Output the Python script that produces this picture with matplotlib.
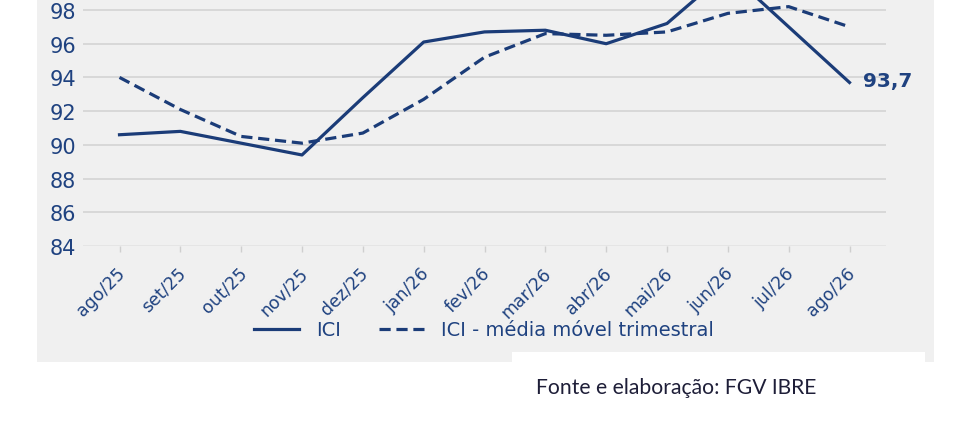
import matplotlib
matplotlib.use("Agg")
import matplotlib.pyplot as plt
from matplotlib.patches import Rectangle
from matplotlib.transforms import ScaledTranslation

plt.rcParams["font.family"] = ["DejaVu Sans"]

months = ["ago/25", "set/25", "out/25", "nov/25", "dez/25", "jan/26", "fev/26",
          "mar/26", "abr/26", "mai/26", "jun/26", "jul/26", "ago/26"]
ici = [90.6, 90.8, 90.1, 89.4, 92.8, 96.1, 96.7, 96.8, 96.0, 97.2, 100.3, 97.0, 93.7]
ici_mm3 = [94.0, 92.1, 90.5, 90.1, 90.7, 92.7, 95.2, 96.6, 96.5, 96.7, 97.8, 98.2, 97.0]
yticks = [84, 86, 88, 90, 92, 94, 96, 98]
last_label = "93,7"
legend_labels = ["ICI", "ICI - média móvel trimestral"]
source_text = "Fonte e elaboração: FGV IBRE"

W, H = 971, 439
LINE = "#1b3c78"
TXT = "#1f4280"
BG = "#f0f0f0"

fig = plt.figure(figsize=(W / 100, H / 100), dpi=100)
fig.patch.set_facecolor("white")

# gray panel
fig.patches.append(Rectangle((37 / W, 1 - 363 / H), (934 - 37) / W, 363 / H,
                             transform=fig.transFigure, facecolor=BG, edgecolor="none", zorder=-2))

ax = fig.add_axes([83 / W, 1 - 247 / H, (886 - 83) / W, 247 / H])
ax.set_zorder(1)
ax.patch.set_visible(False)
for s in ax.spines.values():
    s.set_visible(False)

x = list(range(len(months)))
ax.plot(x, ici, color=LINE, lw=2.3, label=legend_labels[0], zorder=3)
ax.plot(x, ici_mm3, color=LINE, lw=2.3, dashes=(3.5, 1.8), label=legend_labels[1], zorder=3)

ax.set_xlim(-0.6, 12.6)
ax.set_ylim(84, 98 + 11 / (236 / 14))
ax.set_yticks(yticks)
ax.set_yticklabels([str(v) for v in yticks])
ax.grid(axis="y", color="#d6d6d6", lw=1.3, zorder=1)
ax.set_axisbelow(True)
ax.get_ygridlines()[0].set_color("#e4e4e4")

ax.tick_params(axis="y", length=0, pad=5, labelsize=15, labelcolor=TXT)
ax.tick_params(axis="x", length=4.5, width=1, color="#cfcfcf", pad=8, labelsize=12.5, labelcolor=TXT)
ax.set_xticks(x)
ax.set_xticklabels(months, rotation=45, ha="right", va="top")
off = ScaledTranslation(9 / 100, 0, fig.dpi_scale_trans)
for lab in ax.get_xticklabels():
    lab.set_transform(lab.get_transform() + off)

ax.annotate(last_label, xy=(x[-1], ici[-1]), xytext=(13, 2), textcoords="offset pixels",
            ha="left", va="center", fontsize=14.5, fontweight="bold", color=TXT)

leg = fig.legend(loc="center", bbox_to_anchor=(484 / W, 1 - 331 / H), ncol=2, frameon=False,
                 fontsize=14, handlelength=2.3, handletextpad=0.85, columnspacing=2.0)
for t in leg.get_texts():
    t.set_color(TXT)

# white source box
fig.patches.append(Rectangle((512 / W, 0), (925 - 512) / W, (H - 353) / H,
                             transform=fig.transFigure, facecolor="white", edgecolor="none", zorder=5))
fig.text(536 / W, 1 - 388 / H, source_text, ha="left", va="center", fontsize=15.2,
         family=["Lato", "DejaVu Sans"], color="#1e1e38", zorder=6)

fig.savefig("out.png", dpi=100, facecolor="white")
